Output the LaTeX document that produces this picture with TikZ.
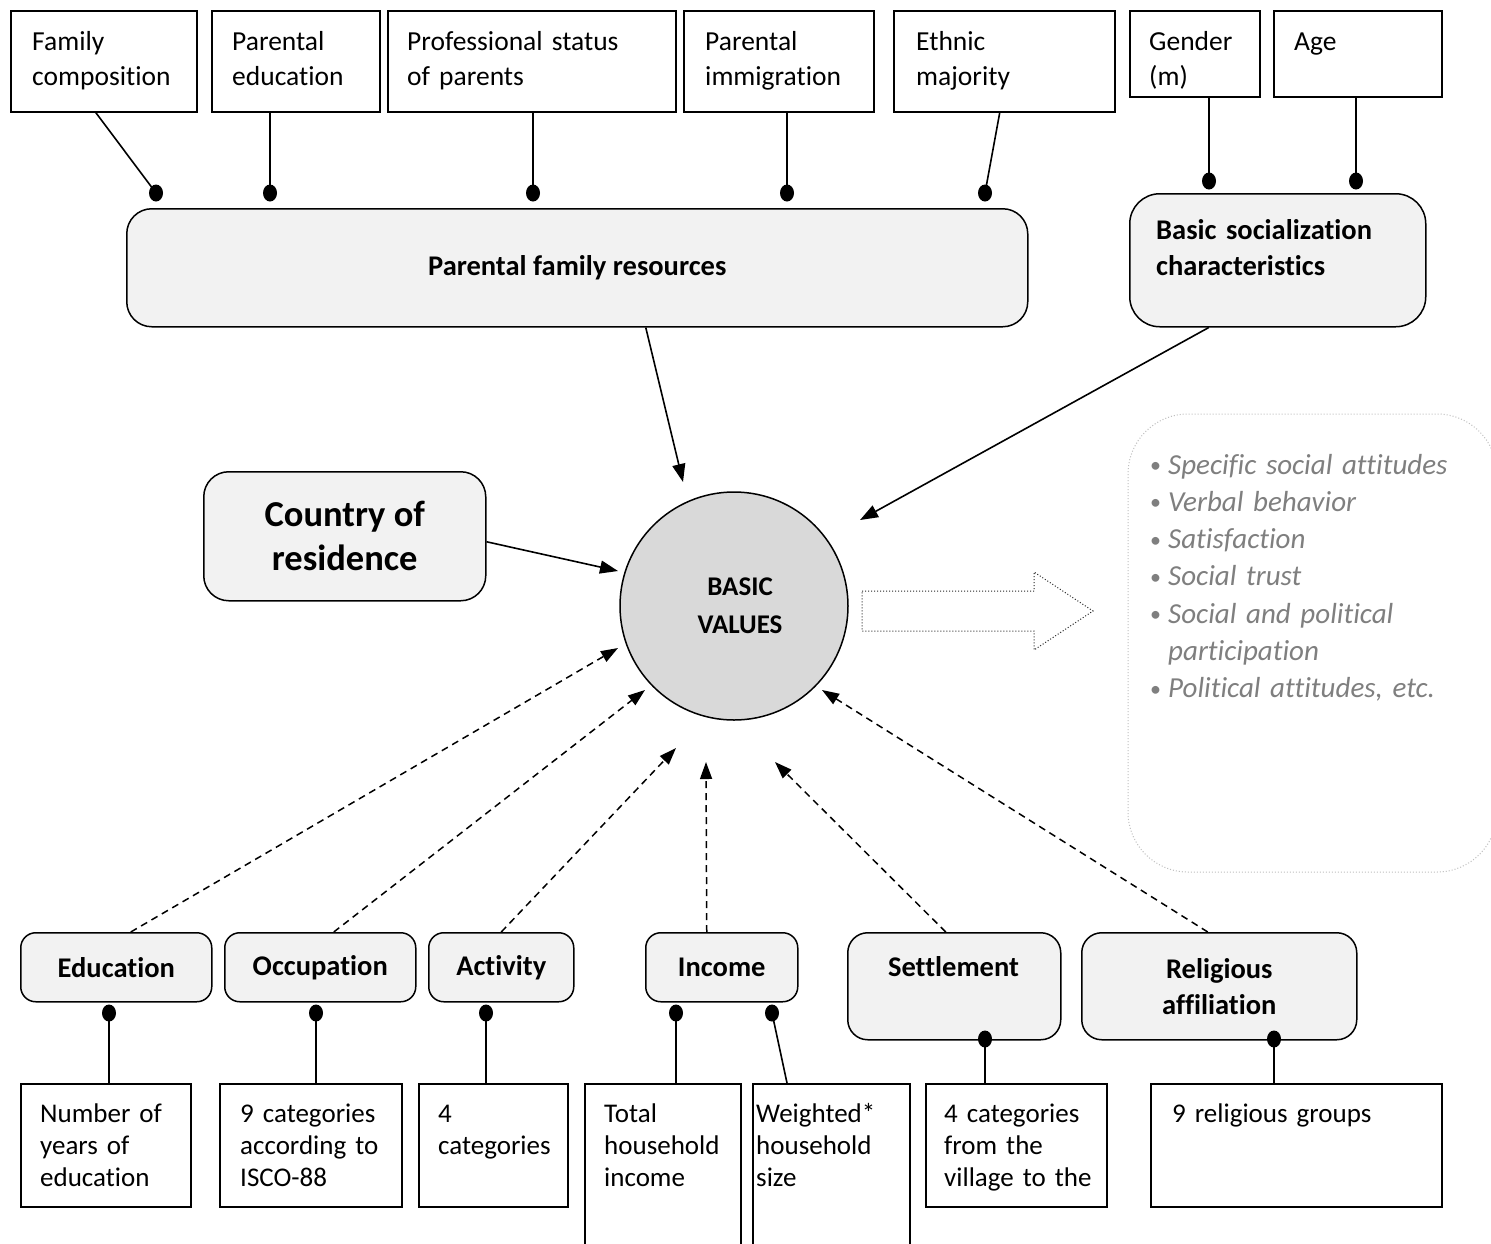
\documentclass[tikz,border=0pt]{standalone}
\usepackage{fontspec}
\setmainfont{Carlito}[Ligatures=NoCommon]
\usetikzlibrary{arrows.meta,calc,shapes.geometric}
\definecolor{boxfill}{HTML}{F2F2F2}
\definecolor{circfill}{HTML}{D9D9D9}
\definecolor{listgray}{HTML}{7F7F7F}
\definecolor{panelgray}{HTML}{BFBFBF}
\newcommand{\mybul}{\makebox[18pt][l]{\upshape\fontsize{22}{22}\selectfont\raisebox{1.5pt}{•}}}
\begin{document}
\begin{tikzpicture}[x=1pt,y=-1pt,
  every node/.style={inner sep=0pt},
  sqbox/.style={draw, line width=1.5pt, anchor=north west},
  rbox/.style={draw, line width=1.5pt, fill=boxfill, anchor=north west, align=center, font=\fontsize{28.5}{36}\selectfont\bfseries},
  ttxt/.style={anchor=base west, align=left, font=\fontsize{27.5}{35}\selectfont},
  btxt/.style={anchor=base west, align=left, font=\fontsize{27}{32}\selectfont},
  dotn/.style={ellipse, fill=black, minimum width=14, minimum height=17},
  conn/.style={line width=1.6pt},
  solidarr/.style={line width=1.6pt, -{Triangle[length=18pt,width=13pt]}},
  dasharr/.style={line width=1.5pt, dash pattern=on 7pt off 5pt, -{Triangle[length=17pt,width=12pt]}}
]
\useasboundingbox[fill=white] (0,0) rectangle (1491,1243);

% ---------- top boxes ----------
\node[sqbox, minimum width=186, minimum height=101] (fam) at (10,10) {};
\node[ttxt, text width=170] (famT) at (32,50) {Family\\composition};
\node[sqbox, minimum width=168, minimum height=101] (pedu) at (211,10) {};
\node[ttxt, text width=150] (peduT) at (232,50) {Parental\\education};
\node[sqbox, minimum width=288, minimum height=101] (prof) at (387,10) {};
\node[ttxt, text width=265] (profT) at (407,50) {Professional status\\of parents};
\node[sqbox, minimum width=190, minimum height=101] (pimm) at (683,10) {};
\node[ttxt, text width=170] (pimmT) at (705,50) {Parental\\immigration};
\node[sqbox, minimum width=221, minimum height=101] (eth) at (893,10) {};
\node[ttxt, text width=190] (ethT) at (916,50) {Ethnic\\majority};
\node[sqbox, minimum width=130, minimum height=86] (gen) at (1129,10) {};
\node[ttxt, text width=110] (genT) at (1149,50) {Gender\\(m)};
\node[sqbox, minimum width=168, minimum height=86] (age) at (1273,10) {};
\node[ttxt, text width=140] (ageT) at (1294,50) {Age};

% dots top
\node[dotn] (d1) at (156,193) {};
\node[dotn] (d2) at (270,193) {};
\node[dotn] (d3) at (533,193) {};
\node[dotn] (d4) at (787,193) {};
\node[dotn] (d5) at (985,193) {};
\node[dotn] (d6) at (1209,181) {};
\node[dotn] (d7) at (1356,181) {};

\draw[conn] ($(fam.south)+(-8,0)$) -- (d1.center);
\draw[conn] (d2 |- pedu.south) -- (d2.center);
\draw[conn] (d3 |- prof.south) -- (d3.center);
\draw[conn] (d4 |- pimm.south) -- (d4.center);
\draw[conn] ($(eth.south)+(-4.5,0)$) -- (d5.center);
\draw[conn] (d6 |- gen.south) -- (d6.center);
\draw[conn] (d7 |- age.south) -- (d7.center);

% ---------- grouping boxes ----------
\node[rbox, rounded corners=25, minimum width=901, minimum height=118] (pfr) at (126,208) {Parental family resources};
\node[rbox, rounded corners=30, minimum width=296, minimum height=133] (bsc) at (1129,193) {};
\node[anchor=base west, align=left, text width=260, font=\fontsize{28.5}{36}\selectfont\bfseries] (bscT) at (1156,239) {Basic socialization\\characteristics};

% ---------- centre ----------
\node[circle, draw, line width=1.5pt, fill=circfill, minimum size=228, align=center, font=\fontsize{27}{38}\selectfont\bfseries] (bv) at (734,606) {\hspace*{12pt}BASIC\\\hspace*{12pt}VALUES};
\node[rbox, rounded corners=25, minimum width=282, minimum height=129, font=\fontsize{36.5}{44}\selectfont\bfseries] (country) at (203,471) {Country of\\residence};

\draw[solidarr] ($(pfr.south)+(68.5,0)$) -- ($(bv.center)+(-51,-124)$);
\draw[solidarr] ($(bsc.south)+(-69,0)$) -- ($(bv.center)+(126,-86)$);
\draw[solidarr] ($(country.east)+(0,5.5)$) -- ($(bv.center)+(-116,-35)$);

% ---------- right panel ----------
\draw[panelgray, dotted, line width=1pt, rounded corners=60] (1128,414) rectangle (1497,872);
\node[anchor=base west, align=left, text width=340, text=listgray, font=\fontsize{29}{37.3}\selectfont\itshape] (list) at (1150,474) {%
\mybul Specific social attitudes\\
\mybul Verbal behavior\\
\mybul Satisfaction\\
\mybul Social trust\\
\mybul Social and political\\
\hspace*{18pt}participation\\
\mybul Political attitudes, etc.};
\draw[dotted, line width=1pt, black!85] (862,591) -- (1034,591) -- (1034,572) -- (1093,611) -- (1034,650) -- (1034,631) -- (862,631) -- cycle;

% ---------- middle bottom boxes ----------
\node[rbox, rounded corners=15, minimum width=191, minimum height=69] (edu) at (20,932) {Education};
\node[rbox, rounded corners=15, minimum width=191, minimum height=69] (occ) at (224,932) {Occupation};
\node[rbox, rounded corners=15, minimum width=145, minimum height=69] (act) at (428,932) {Activity};
\node[rbox, rounded corners=15, minimum width=152, minimum height=69] (inc) at (645,932) {Income};
\node[rbox, rounded corners=20, minimum width=213, minimum height=107] (set) at (847,932) {};
\node[anchor=base, font=\fontsize{28.5}{36}\selectfont\bfseries] (setT) at (953.5,976) {Settlement};
\node[rbox, rounded corners=20, minimum width=275, minimum height=107] (rel) at (1081,932) {Religious\\affiliation};

\draw[dasharr] ($(edu.north)+(14.5,0)$) -- ($(bv.center)+(-116,42)$);
\draw[dasharr] ($(occ.north)+(13.5,0)$) -- ($(bv.center)+(-89,84)$);
\draw[dasharr] (act.north) -- ($(bv.center)+(-58,142)$);
\draw[dasharr] ($(inc.north)+(-15,0)$) -- ($(bv.center)+(-28,156)$);
\draw[dasharr] ($(set.north)+(-8.5,0)$) -- ($(bv.center)+(41,156)$);
\draw[dasharr] ($(rel.north)+(-11.5,0)$) -- ($(bv.center)+(88,84)$);

% ---------- bottom boxes ----------
\node[sqbox, minimum width=170, minimum height=123] (b1) at (20,1083) {};
\node[btxt, text width=150] (b1T) at (40,1122) {Number of\\years of\\education};
\node[sqbox, minimum width=182, minimum height=123] (b2) at (219,1083) {};
\node[btxt, text width=160] (b2T) at (240,1122) {9 categories\\according to\\ISCO-88};
\node[sqbox, minimum width=149, minimum height=123] (b3) at (418,1083) {};
\node[btxt, text width=125] (b3T) at (438,1122) {4\\categories};
\node[sqbox, minimum width=156, minimum height=185] (b4) at (584,1083) {};
\node[btxt, text width=135] (b4T) at (604,1122) {Total\\household\\income};
\node[sqbox, minimum width=157, minimum height=185] (b5) at (752,1083) {};
\node[btxt, text width=150] (b5T) at (756,1122) {Weighted*\\household\\size};
\node[sqbox, minimum width=181, minimum height=123] (b6) at (925,1083) {};
\node[btxt, text width=160] (b6T) at (944,1122) {4 categories\\from the\\village to the};
\node[sqbox, minimum width=291, minimum height=123] (b7) at (1150,1083) {};
\node[btxt, text width=260] (b7T) at (1172,1122) {9 religious groups};

% dots bottom
\node[dotn] (e1) at (109,1013) {};
\node[dotn] (e2) at (316,1013) {};
\node[dotn] (e3) at (486,1013) {};
\node[dotn] (e4) at (676,1013) {};
\node[dotn] (e5) at (772,1013) {};
\node[dotn] (e6) at (985,1039) {};
\node[dotn] (e7) at (1274,1039) {};

\draw[conn] (e1.center) -- (e1 |- b1.north);
\draw[conn] (e2.center) -- (e2 |- b2.north);
\draw[conn] (e3.center) -- (e3 |- b3.north);
\draw[conn] (e4.center) -- (e4 |- b4.north);
\draw[conn] (e5.center) -- ($(b5.north west)+(35,0)$);
\draw[conn] (e6.center) -- (e6 |- b6.north);
\draw[conn] (e7.center) -- (e7 |- b7.north);
\end{tikzpicture}
\end{document}
